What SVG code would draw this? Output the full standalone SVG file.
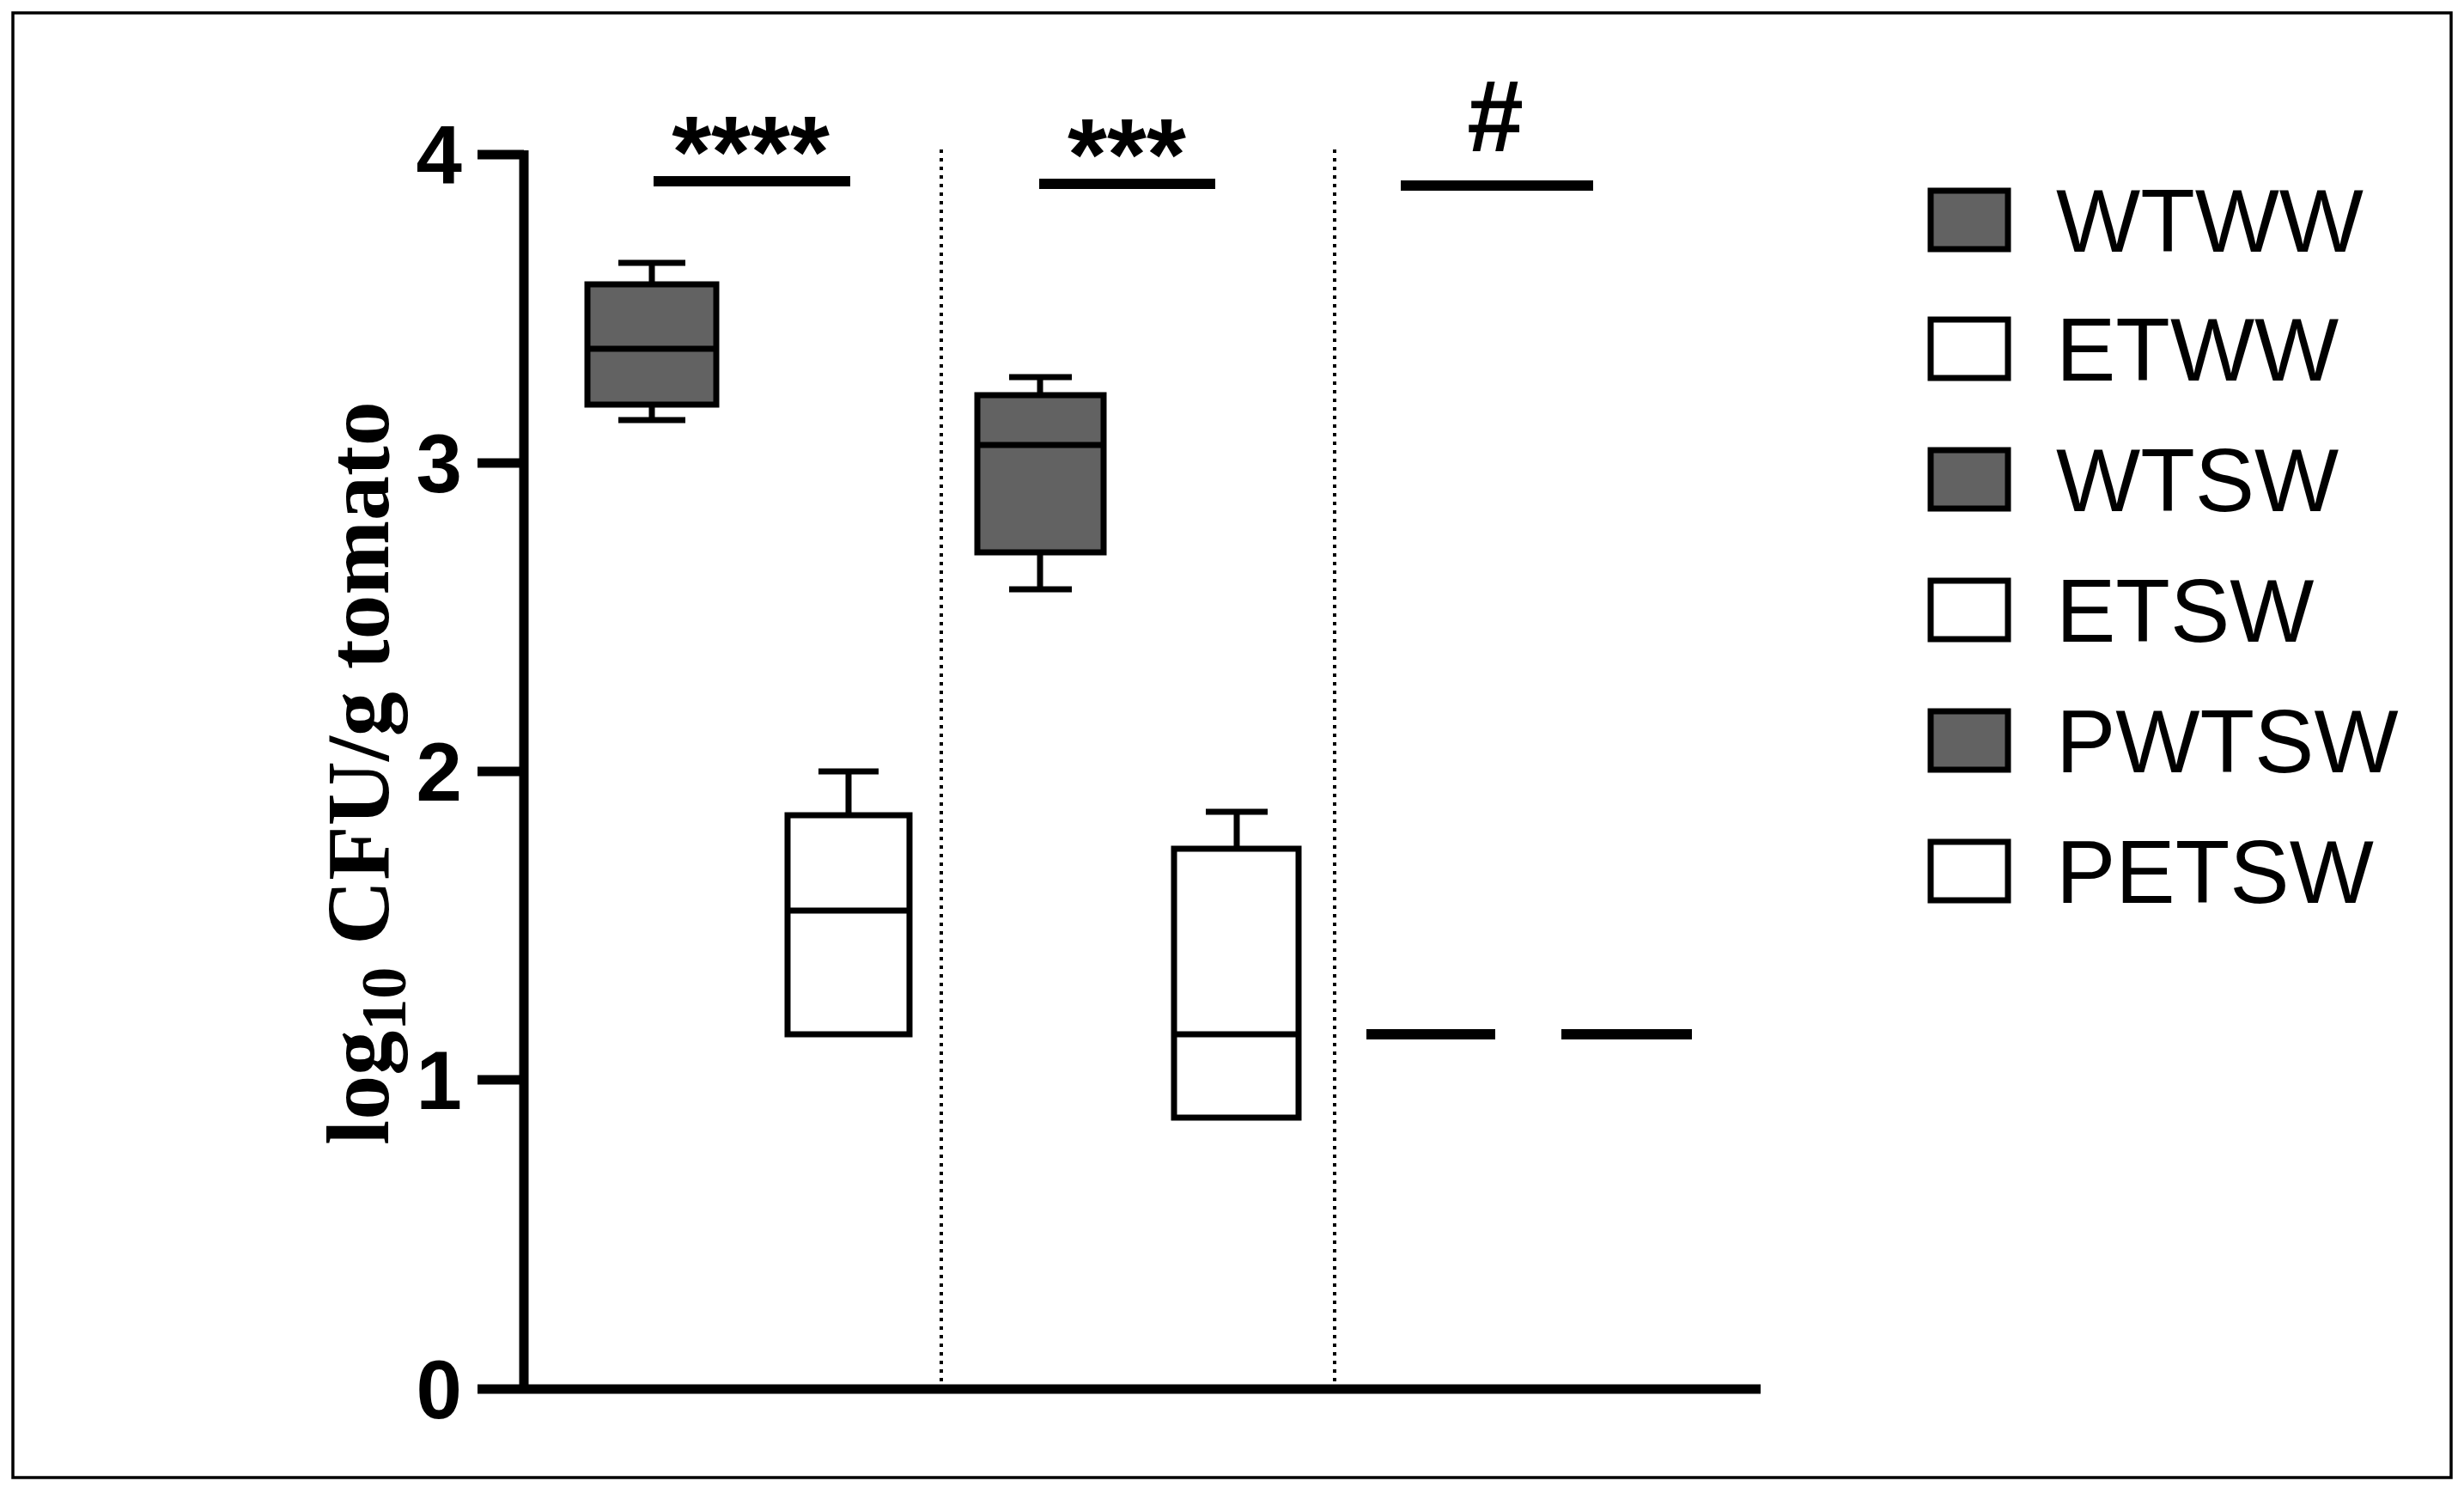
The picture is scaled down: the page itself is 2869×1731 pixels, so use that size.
<svg xmlns="http://www.w3.org/2000/svg" width="2869" height="1731" viewBox="0 0 2869 1731">
<style>
.ax{stroke:#000;stroke-width:11;fill:none}
.bx{stroke:#000;stroke-width:7}
.g{fill:#626262}.w{fill:#fff}
.tk{font-family:"Liberation Sans",Arial,sans-serif;font-weight:bold;font-size:96px;text-anchor:end}
.lg{font-family:"Liberation Sans",Arial,sans-serif;font-size:104px}
.st{font-family:"Liberation Sans",Arial,sans-serif;font-weight:bold;font-size:118px;text-anchor:middle}
.sb{stroke:#000;stroke-width:12}
.dot{stroke:#000;stroke-width:4;stroke-dasharray:4 6}
</style>
<rect width="2869" height="1731" fill="#fff"/>
<rect x="15" y="15" width="2839" height="1705" fill="none" stroke="#000" stroke-width="3.5"/>
<g id="axes">
<path class="ax" d="M610 175V1622M556 1617H2050M556 180H610M556 539H610M556 898H610M556 1257H610"/>
<text class="tk" x="538" y="214">4</text>
<text class="tk" x="538" y="573">3</text>
<text class="tk" x="538" y="932">2</text>
<text class="tk" x="538" y="1291">1</text>
<text class="tk" x="538" y="1651">0</text>
<text transform="translate(452,900) rotate(-90)" text-anchor="middle" font-family="Liberation Serif,Times New Roman,serif" font-weight="bold" font-size="104">log<tspan font-size="74" dy="20">10</tspan><tspan dy="-20">  CFU/g tomato</tspan></text>
</g>
<g id="separators">
<line class="dot" x1="1096" y1="174" x2="1096" y2="1613"/>
<line class="dot" x1="1554" y1="174" x2="1554" y2="1613"/>
</g>
<g id="sig">
<line class="sb" x1="761" y1="211" x2="990" y2="211"/>
<text class="st" x="874" y="218">****</text>
<line class="sb" x1="1210" y1="214" x2="1415" y2="214"/>
<text class="st" x="1312" y="221">***</text>
<line class="sb" x1="1631" y1="216" x2="1855" y2="216"/>
<text class="st" x="1741" y="176" font-size="62">#</text>
</g>
<g id="box-wtww">
<path class="bx" d="M759 306V331M759 471V489M720 306H798M720 489H798"/>
<rect class="bx g" x="684" y="331" width="150" height="140"/>
<line class="bx" x1="684" y1="406" x2="834" y2="406"/>
</g>
<g id="box-etww">
<path class="bx" d="M988 898V949M953 898H1023"/>
<rect class="bx w" x="917" y="949" width="142" height="255"/>
<line class="bx" x1="917" y1="1060" x2="1059" y2="1060"/>
</g>
<g id="box-wtsw">
<path class="bx" d="M1211 439V460M1211 643V686M1175 439H1248M1175 686H1248"/>
<rect class="bx g" x="1138" y="460" width="147" height="183"/>
<line class="bx" x1="1138" y1="518" x2="1285" y2="518"/>
</g>
<g id="box-etsw">
<path class="bx" d="M1440 945V988M1404 945H1476"/>
<rect class="bx w" x="1367" y="988" width="145" height="313"/>
<line class="bx" x1="1367" y1="1204" x2="1512" y2="1204"/>
</g>
<g id="pwtsw"><line class="sb" x1="1591" y1="1204" x2="1741" y2="1204"/></g>
<g id="petsw"><line class="sb" x1="1818" y1="1204" x2="1970" y2="1204"/></g>
<g id="legend">
<rect x="2248" y="222" width="90" height="68" fill="#626262" stroke="#000" stroke-width="7"/>
<text class="lg" x="2394" y="293">WTWW</text>
<rect x="2248" y="372" width="90" height="68" fill="#fff" stroke="#000" stroke-width="7"/>
<text class="lg" x="2394" y="443">ETWW</text>
<rect x="2248" y="524" width="90" height="68" fill="#626262" stroke="#000" stroke-width="7"/>
<text class="lg" x="2394" y="595">WTSW</text>
<rect x="2248" y="676" width="90" height="68" fill="#fff" stroke="#000" stroke-width="7"/>
<text class="lg" x="2394" y="747">ETSW</text>
<rect x="2248" y="828" width="90" height="68" fill="#626262" stroke="#000" stroke-width="7"/>
<text class="lg" x="2394" y="899">PWTSW</text>
<rect x="2248" y="980" width="90" height="68" fill="#fff" stroke="#000" stroke-width="7"/>
<text class="lg" x="2394" y="1051">PETSW</text>
</g>
</svg>
